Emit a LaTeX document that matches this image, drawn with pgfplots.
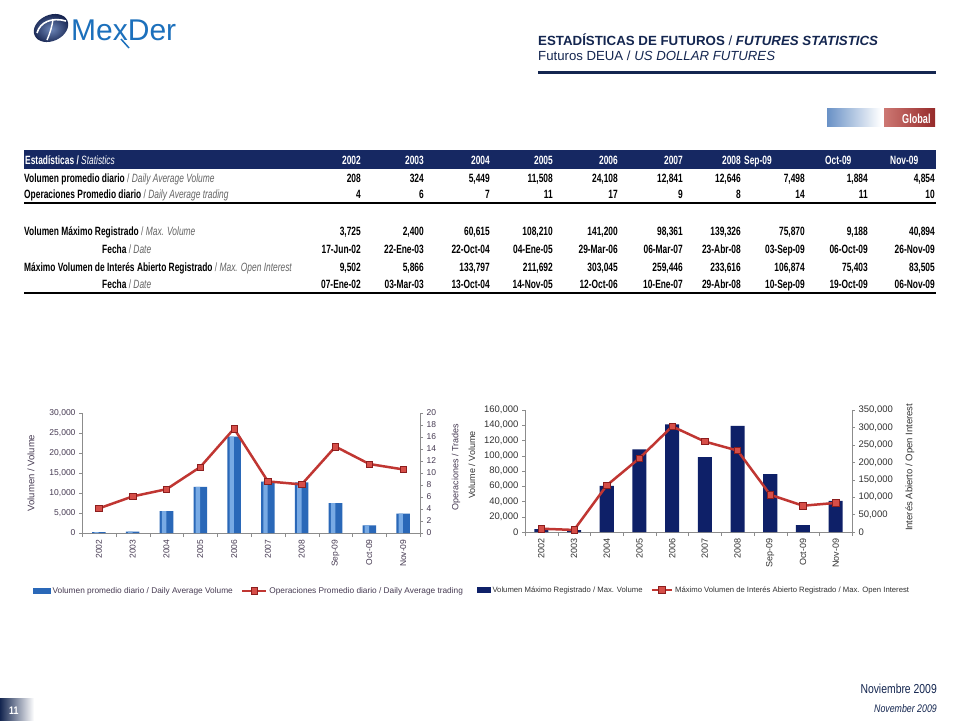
\documentclass[border=0pt]{standalone}
\usepackage{fontspec}
\setmainfont{Liberation Sans}
\newfontfamily\narrow[FakeStretch=0.7]{Liberation Sans}
\newfontfamily\narrowf[FakeStretch=0.8]{Liberation Sans}
\usepackage{pgfplots}
\pgfplotsset{compat=1.18}

\definecolor{navy}{RGB}{20,38,80}
\definecolor{headnavy}{RGB}{22,40,98}
\definecolor{logoblue}{RGB}{28,112,188}
\definecolor{logodark}{RGB}{22,36,80}
\definecolor{logolight}{RGB}{110,135,185}
\definecolor{barblue}{RGB}{42,104,184}
\definecolor{barlight}{RGB}{120,170,228}
\definecolor{bardark}{RGB}{14,32,104}
\definecolor{linered}{RGB}{192,54,50}
\definecolor{markred}{RGB}{214,78,72}
\definecolor{markdark}{RGB}{140,30,30}
\definecolor{tickpurple}{RGB}{70,58,82}
\definecolor{tickdark}{RGB}{50,50,50}
\definecolor{axisgray}{RGB}{140,140,140}
\definecolor{itgray}{RGB}{100,100,100}
\definecolor{globalblue}{RGB}{105,145,198}
\definecolor{globalred}{RGB}{150,42,42}
\definecolor{globalredl}{RGB}{205,120,115}

\pgfplotsset{
  chartbase/.style={
    scale only axis, xmin=-0.5, xmax=9.5, ymin=0,
    axis line style={axisgray}, tick style={axisgray},
    tick align=outside, major tick length=3pt,
    scaled y ticks=false,
    /pgf/number format/fixed,
    /pgf/number format/precision=0,
    /pgf/number format/1000 sep={,},
    /pgf/number format/assume math mode=true,
    clip=false,
  },
  line24/.style={legend image code/.code={\draw[mark repeat=2, mark phase=2, ##1] plot coordinates {(0pt,0pt) (12pt,0pt) (24pt,0pt)};}},
  line20/.style={legend image code/.code={\draw[mark repeat=2, mark phase=2, ##1] plot coordinates {(0pt,0pt) (10pt,0pt) (20pt,0pt)};}},
}

\begin{document}
\begin{tikzpicture}
\path[use as bounding box] (0pt,0pt) rectangle (960pt,-720pt);
\fill[white] (0pt,0pt) rectangle (960pt,-720pt);

\begin{scope}[x=1pt,y=-1pt]
  % logo
  \begin{scope}[shift={(51,28)}, rotate=25]
    \shade[inner color=logolight, outer color=logodark] (0,0) ellipse (18 and 13);
  \end{scope}
  \draw[white, line width=1.6pt] (37,33) .. controls (40,22) and (52,17) .. (66,21);
  \draw[white, line width=1.4pt] (53,19) .. controls (52,27) and (50,33) .. (47,40);
  \node[anchor=base west, inner sep=0pt, text=logoblue, font=\fontsize{30}{30}\selectfont] at (71,40) {MexDer};
  \draw[logoblue, line width=1.5pt] (121,39) -- (129,48);

  % header
  \node[anchor=base west, inner sep=0pt, text=navy, font=\fontsize{13.3}{15}\selectfont]
    at (538,45) {\textbf{ESTADÍSTICAS DE FUTUROS} / \textbf{\textit{FUTURES STATISTICS}}};
  \node[anchor=base west, inner sep=0pt, text=navy, font=\fontsize{13.2}{15}\selectfont]
    at (538,60) {Futuros DEUA / \textit{US DOLLAR FUTURES}};
  \draw[navy, line width=3pt] (538,72) -- (936,72);

  % Global tab
  \shade[left color=globalblue, right color=white] (827,108) rectangle (881,126);
  \shade[left color=globalredl, right color=globalred] (884,108) rectangle (935,126);
  \node[anchor=base west, inner sep=0pt, text=white, font=\narrow\bfseries\fontsize{13}{13}\selectfont] at (902,123) {Global};

  % table
  \fill[headnavy] (24,150) rectangle (936,169);
  \tikzset{tbl/.style={inner sep=0pt, font=\narrow\bfseries\fontsize{12}{12}\selectfont}}
  \node[anchor=base west, tbl, text=white] at (25,164) {Estadísticas / {\mdseries\itshape Statistics}};
  \foreach \x/\y in {361/2002,424/2003,490/2004,553/2005,618/2006,683/2007,741/2008}
    \node[anchor=base east, tbl, text=white] at (\x,164) {\y};
  \foreach \x/\y in {744/Sep-09,825/Oct-09,890/Nov-09}
    \node[anchor=base west, tbl, text=white] at (\x,164) {\y};

  \node[anchor=base west, tbl] at (24,182) {Volumen promedio diario {\mdseries\color{itgray}/ \itshape Daily Average Volume}};
  \node[anchor=base west, tbl] at (24,198) {Operaciones Promedio diario {\mdseries\color{itgray}/ \itshape Daily Average trading}};
  \draw[black, line width=1.5pt] (24,203) -- (936,203);
  \node[anchor=base west, tbl] at (24,235) {Volumen Máximo Registrado {\mdseries\color{itgray}/ \itshape Max. Volume}};
  \node[anchor=base west, tbl] at (102,253) {Fecha {\mdseries\color{itgray}/ \itshape Date}};
  \node[anchor=base west, tbl] at (24,271) {Máximo Volumen de Interés Abierto Registrado {\mdseries\color{itgray}/ \itshape Max. Open Interest}};
  \node[anchor=base west, tbl] at (102,288) {Fecha {\mdseries\color{itgray}/ \itshape Date}};
  \draw[black, line width=2.5pt] (24,293) -- (936,293);

  \foreach \x/\a/\b/\c/\d/\e/\f in {
    361/208/4/{3,725}/17-Jun-02/{9,502}/07-Ene-02,
    424/324/6/{2,400}/22-Ene-03/{5,866}/03-Mar-03,
    490/{5,449}/7/{60,615}/22-Oct-04/{133,797}/13-Oct-04,
    553/{11,508}/11/{108,210}/04-Ene-05/{211,692}/14-Nov-05,
    618/{24,108}/17/{141,200}/29-Mar-06/{303,045}/12-Oct-06,
    683/{12,841}/9/{98,361}/06-Mar-07/{259,446}/10-Ene-07,
    741/{12,646}/8/{139,326}/23-Abr-08/{233,616}/29-Abr-08,
    805/{7,498}/14/{75,870}/03-Sep-09/{106,874}/10-Sep-09,
    868/{1,884}/11/{9,188}/06-Oct-09/{75,403}/19-Oct-09,
    935/{4,854}/10/{40,894}/26-Nov-09/{83,505}/06-Nov-09}{
    \node[anchor=base east, tbl] at (\x,182) {\a};
    \node[anchor=base east, tbl] at (\x,198) {\b};
    \node[anchor=base east, tbl] at (\x,235) {\c};
    \node[anchor=base east, tbl] at (\x,253) {\d};
    \node[anchor=base east, tbl] at (\x,271) {\e};
    \node[anchor=base east, tbl] at (\x,288) {\f};
  }

  % footer
  \node[anchor=base east, inner sep=0pt, text=navy, font=\narrowf\fontsize{13}{13}\selectfont] at (937,693) {Noviembre 2009};
  \node[anchor=base east, inner sep=0pt, text=navy, font=\narrowf\itshape\fontsize{11}{11}\selectfont] at (937,712) {November 2009};
  \shade[left color=navy, right color=white] (0,698) rectangle (34,720);
  \node[anchor=base west, inner sep=0pt, text=white, font=\narrowf\bfseries\fontsize{11}{11}\selectfont] at (9,714) {11};
\end{scope}

% ---------- left chart: daily average volume / trades ----------
\begin{axis}[chartbase,
  at={(82pt,-533pt)}, anchor=south west, width=338pt, height=120pt,
  ymax=30000, ytick={0,5000,...,30000},
  axis y line*=left, axis x line*=bottom,
  xtick={0,...,9},
  xticklabels={2002,2003,2004,2005,2006,2007,2008,Sep-09,Oct-09,Nov-09},
  every major x tick/.append style={draw=none},
  minor xtick={-0.5,0.5,...,9.5}, minor tick length=4pt,
  tick label style={font=\fontsize{8.5}{9}\selectfont, text=tickpurple},
  x tick label style={rotate=90, anchor=east},
  ylabel={Volumen / Volume},
  ylabel style={at={(axis description cs:-0.151,0.5)}, anchor=center,
    font=\fontsize{9.5}{10}\selectfont, text=tickpurple},
]
\addplot[ybar, bar width=0.4, fill=barblue, draw=none] coordinates {
  (0,208)(1,324)(2,5449)(3,11508)(4,24108)(5,12841)(6,12646)(7,7498)(8,1884)(9,4854)};
\addplot[ybar, bar width=0.13, bar shift=-0.07, fill=barlight, draw=none] coordinates {
  (0,208)(1,324)(2,5449)(3,11508)(4,24108)(5,12841)(6,12646)(7,7498)(8,1884)(9,4854)};
\end{axis}

\begin{axis}[chartbase,
  at={(82pt,-533pt)}, anchor=south west, width=338pt, height=120pt,
  ymax=20, ytick={0,2,...,20},
  axis y line*=right, axis x line=none,
  tick label style={font=\fontsize{8.5}{9}\selectfont, text=tickpurple},
  ylabel={Operaciones / Trades},
  ylabel style={at={(axis description cs:1.107,0.55)}, anchor=center,
    font=\fontsize{9}{10}\selectfont, text=tickpurple},
  legend style={at={(axis description cs:-0.145,-0.483)}, anchor=west,
    draw=none, fill=none, inner sep=0pt, legend columns=2,
    font=\fontsize{8.3}{9}\selectfont, text=tickpurple,
    /tikz/every even column/.append style={column sep=6pt}},
]
\addlegendimage{legend image code/.code={\fill[barblue] (0pt,-2.5pt) rectangle (17pt,2.5pt);}}
\addlegendentry{Volumen promedio diario / Daily Average Volume}
\addplot[linered, line width=2.5pt, mark=square*, mark size=3.2pt,
  mark options={fill=markred, draw=markdark, line width=0.6pt}, line24]
  coordinates {(0,4.1)(1,6.1)(2,7.3)(3,11)(4,17.4)(5,8.6)(6,8.1)(7,14.4)(8,11.5)(9,10.6)};
\addlegendentry{Operaciones Promedio diario / Daily Average trading}
\end{axis}

% ---------- right chart: max volume / max open interest ----------
\begin{axis}[chartbase,
  at={(525pt,-532pt)}, anchor=south west, width=327pt, height=122pt,
  ymax=160000, ytick={0,20000,...,160000},
  axis y line*=left, axis x line*=bottom,
  xtick={0,...,9},
  xticklabels={2002,2003,2004,2005,2006,2007,2008,Sep-09,Oct-09,Nov-09},
  every major x tick/.append style={draw=none},
  minor xtick={-0.5,0.5,...,9.5}, minor tick length=4pt,
  tick label style={font=\fontsize{9.5}{10}\selectfont, text=tickdark},
  x tick label style={rotate=90, anchor=east, font=\fontsize{9}{10}\selectfont},
  ylabel={Volume / Volume},
  ylabel style={at={(axis description cs:-0.162,0.55)}, anchor=center,
    font=\fontsize{9}{10}\selectfont, text=tickdark},
]
\addplot[ybar, bar width=0.43, fill=bardark, draw=none] coordinates {
  (0,3725)(1,2400)(2,60615)(3,108210)(4,141200)(5,98361)(6,139326)(7,75870)(8,9188)(9,40894)};
\end{axis}

\begin{axis}[chartbase,
  at={(525pt,-532pt)}, anchor=south west, width=327pt, height=122pt,
  ymax=350000, ytick={0,50000,...,350000},
  axis y line*=right, axis x line=none,
  tick label style={font=\fontsize{9.5}{10}\selectfont, text=tickdark},
  ylabel={Interés Abierto / Open Interest},
  ylabel style={at={(axis description cs:1.177,0.53)}, anchor=center,
    font=\fontsize{9.5}{10}\selectfont, text=tickdark},
  legend style={at={(axis description cs:-0.147,-0.475)}, anchor=west,
    draw=none, fill=none, inner sep=0pt, legend columns=2,
    font=\fontsize{7.7}{9}\selectfont, text=tickdark,
    /tikz/every even column/.append style={column sep=6pt}},
]
\addlegendimage{legend image code/.code={\fill[bardark] (0pt,-2.5pt) rectangle (13pt,2.5pt);}}
\addlegendentry{Volumen Máximo Registrado / Max. Volume}
\addplot[linered, line width=2.5pt, mark=square*, mark size=3.2pt,
  mark options={fill=markred, draw=markdark, line width=0.6pt}, line20]
  coordinates {(0,9502)(1,5866)(2,133797)(3,211692)(4,303045)(5,259446)(6,233616)(7,106874)(8,75403)(9,83505)};
\addlegendentry{Máximo Volumen de Interés Abierto Registrado / Max. Open Interest}
\end{axis}
\end{tikzpicture}
\end{document}
